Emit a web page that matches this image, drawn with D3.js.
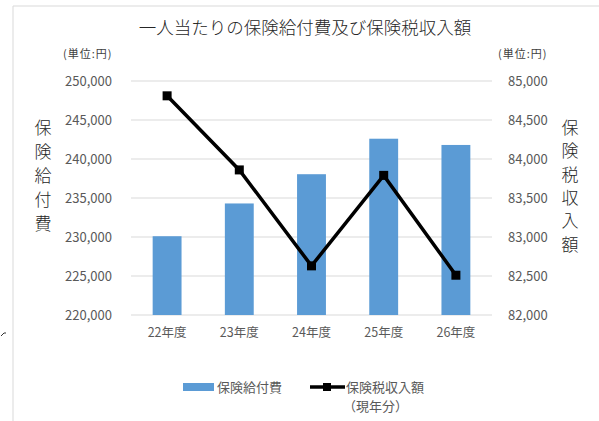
<!DOCTYPE html>
<html lang="ja">
<head>
  <meta charset="UTF-8">
  <script src="https://d3js.org/d3.v7.min.js"></script>
  <title></title>
  <style>
    body { margin: 0; background: #fff; }
    text { font-family: "Noto Sans CJK JP", "Noto Sans", sans-serif; }
  </style>
</head>
<body>
  <script>
    var width = 599, height = 421;
    var margin = {top: 81, right: 107, bottom: 106, left: 131};
    var innerW = width - margin.left - margin.right,
        innerH = height - margin.top - margin.bottom;

    var categories = ['22年度', '23年度', '24年度', '25年度', '26年度'];
    var benefits = [230100, 234300, 238050, 242600, 241800];
    var taxIncome = [84810, 83860, 82630, 83790, 82510];
    var leftTicks = [220000, 225000, 230000, 235000, 240000, 245000, 250000];
    var rightTicks = [82000, 82500, 83000, 83500, 84000, 84500, 85000];

    var svg = d3.select('body').append('svg')
      .attr('width', width)
      .attr('height', height);

    // outer frame (partly visible)
    svg.append('line').attr('x1', 13).attr('x2', width).attr('y1', 6).attr('y2', 6)
      .attr('stroke', '#d9d9d9');
    svg.append('line').attr('x1', 13).attr('x2', 13).attr('y1', 6).attr('y2', height)
      .attr('stroke', '#d9d9d9');
    svg.append('path').attr('d', 'M1,336 L4,333 L6,333')
      .attr('stroke', '#333').attr('fill', 'none').attr('stroke-width', 1);

    var g = svg.append('g')
      .attr('transform', 'translate(' + margin.left + ',' + margin.top + ')');

    var x = d3.scaleBand().domain(categories).range([0, innerW]).paddingInner(0.6).paddingOuter(0.3);
    var y = d3.scaleLinear().domain([220000, 250000]).range([innerH, 0]);
    var y2 = d3.scaleLinear().domain([82000, 85000]).range([innerH, 0]);

    // gridlines
    g.append('g').selectAll('line').data(leftTicks).enter().append('line')
      .attr('x1', 0).attr('x2', innerW)
      .attr('y1', function(d) { return y(d); })
      .attr('y2', function(d) { return y(d); })
      .attr('stroke', '#d9d9d9').attr('stroke-width', 1);

    // left axis
    var fmt = d3.format(',');
    var la = g.append('g').attr('transform', 'translate(-16,0)')
      .call(d3.axisLeft(y).tickValues(leftTicks).tickFormat(fmt).tickSize(0));
    la.select('.domain').remove();
    la.selectAll('text').attr('fill', '#595959').style('font-size', '13px');

    // right axis
    var ra = g.append('g').attr('transform', 'translate(' + (innerW + 13) + ',0)')
      .call(d3.axisRight(y2).tickValues(rightTicks).tickFormat(fmt).tickSize(0));
    ra.select('.domain').remove();
    ra.selectAll('text').attr('fill', '#595959').style('font-size', '13px');

    // x axis
    var xa = g.append('g').attr('transform', 'translate(0,' + (innerH + 10) + ')')
      .call(d3.axisBottom(x).tickSize(0));
    xa.select('.domain').remove();
    xa.selectAll('text').attr('fill', '#595959').style('font-size', '12.5px');

    // bars
    g.append('g').selectAll('rect').data(benefits).enter().append('rect')
      .attr('x', function(d, i) { return x(categories[i]); })
      .attr('width', x.bandwidth())
      .attr('y', function(d) { return y(d); })
      .attr('height', function(d) { return innerH - y(d); })
      .attr('fill', '#5b9bd5');

    // line
    var line = d3.line()
      .x(function(d, i) { return x(categories[i]) + x.bandwidth() / 2; })
      .y(function(d) { return y2(d); });
    g.append('path').datum(taxIncome)
      .attr('d', line)
      .attr('fill', 'none').attr('stroke', '#000').attr('stroke-width', 3.5);
    g.append('g').selectAll('rect').data(taxIncome).enter().append('rect')
      .attr('x', function(d, i) { return x(categories[i]) + x.bandwidth() / 2 - 4.5; })
      .attr('y', function(d) { return y2(d) - 4.5; })
      .attr('width', 9).attr('height', 9).attr('fill', '#000');

    // title
    svg.append('text').attr('x', 305).attr('y', 34).attr('text-anchor', 'middle')
      .style('font-size', '17.5px').style('font-weight', 300).attr('fill', '#262626')
      .text('一人当たりの保険給付費及び保険税収入額');

    // unit labels
    svg.append('text').attr('x', 63).attr('y', 58).style('font-size', '11px')
      .style('letter-spacing', '1px').attr('fill', '#404040').text('(単位:円)');
    svg.append('text').attr('x', 498).attr('y', 58).style('font-size', '11px')
      .style('letter-spacing', '1px').attr('fill', '#404040').text('(単位:円)');

    // vertical axis titles
    var leftTitle = '保険給付費'.split('');
    svg.append('g').selectAll('text').data(leftTitle).enter().append('text')
      .attr('x', 43).attr('y', function(d, i) { return 134 + i * 24; })
      .attr('text-anchor', 'middle').style('font-size', '17px').style('font-weight', 300)
      .attr('fill', '#262626')
      .text(function(d) { return d; });
    var rightTitle = '保険税収入額'.split('');
    svg.append('g').selectAll('text').data(rightTitle).enter().append('text')
      .attr('x', 570).attr('y', function(d, i) { return 134 + i * 23.3; })
      .attr('text-anchor', 'middle').style('font-size', '17px').style('font-weight', 300)
      .attr('fill', '#262626')
      .text(function(d) { return d; });

    // legend
    var lg = svg.append('g');
    lg.append('rect').attr('x', 183).attr('y', 383).attr('width', 31).attr('height', 8)
      .attr('fill', '#5b9bd5');
    lg.append('text').attr('x', 217).attr('y', 392).style('font-size', '13px')
      .attr('fill', '#595959').text('保険給付費');
    lg.append('line').attr('x1', 310).attr('x2', 345).attr('y1', 387).attr('y2', 387)
      .attr('stroke', '#000').attr('stroke-width', 3.5);
    lg.append('rect').attr('x', 323).attr('y', 383).attr('width', 8).attr('height', 8)
      .attr('fill', '#000');
    lg.append('text').attr('x', 346).attr('y', 392).style('font-size', '13px')
      .attr('fill', '#595959').text('保険税収入額');
    lg.append('text').attr('x', 343).attr('y', 411).style('font-size', '13px')
      .attr('fill', '#595959').text('（現年分）');
  </script>
</body>
</html>
